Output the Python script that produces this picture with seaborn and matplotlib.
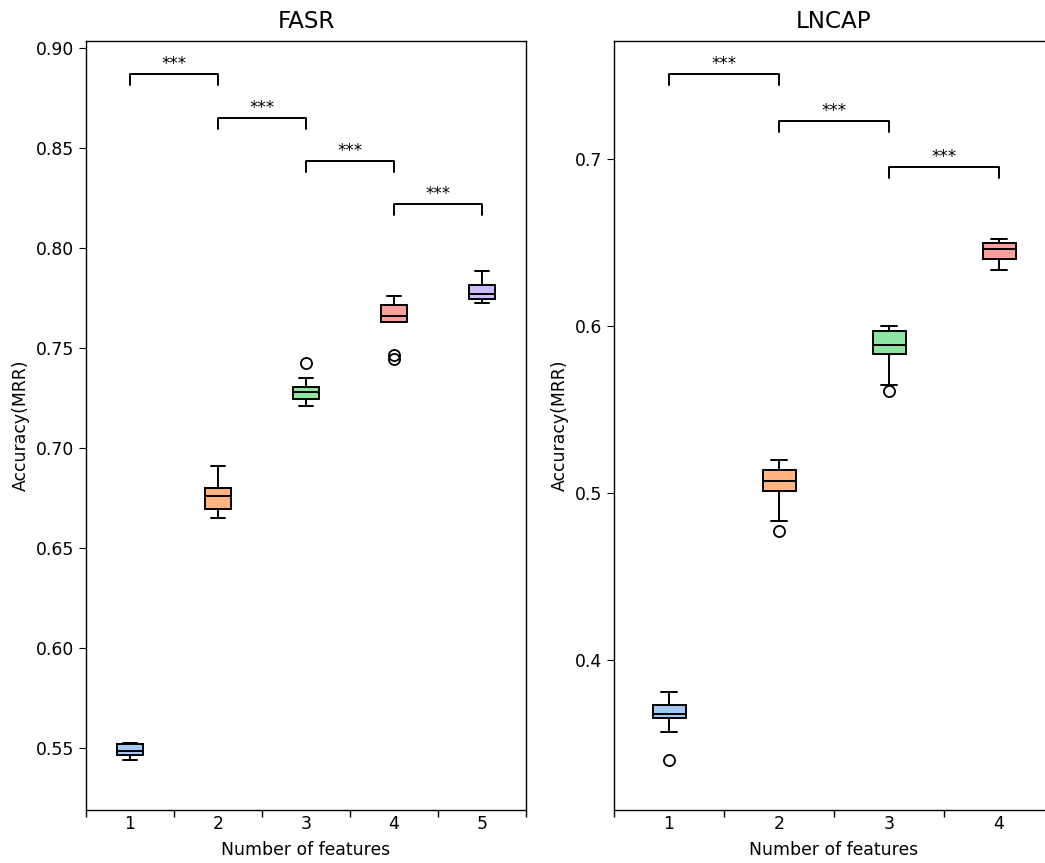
import numpy as np
import pandas as pd
import matplotlib
matplotlib.use("Agg")
import matplotlib.pyplot as plt
import seaborn as sns
from matplotlib.ticker import FixedLocator

# ---- data (samples chosen to reproduce the box statistics) ----
fasr_features = ["1", "2", "3", "4", "5"]
fasr_1 = [0.5440, 0.5450, 0.5465, 0.5470, 0.5485, 0.5500, 0.5520, 0.5522, 0.5525]
fasr_2 = [0.6650, 0.6670, 0.6695, 0.6730, 0.6760, 0.6780, 0.6800, 0.6850, 0.6910]
fasr_3 = [0.7210, 0.7230, 0.7245, 0.7260, 0.7280, 0.7290, 0.7305, 0.7350, 0.7425]
fasr_4 = [0.7445, 0.7465, 0.7630, 0.7640, 0.7660, 0.7680, 0.7715, 0.7740, 0.7760]
fasr_5 = [0.7725, 0.7735, 0.7745, 0.7760, 0.7770, 0.7790, 0.7815, 0.7850, 0.7885]

lncap_features = ["1", "2", "3", "4"]
lncap_1 = [0.3400, 0.3570, 0.3653, 0.3660, 0.3677, 0.3700, 0.3730, 0.3770, 0.3808]
lncap_2 = [0.4772, 0.4830, 0.5012, 0.5040, 0.5072, 0.5100, 0.5138, 0.5170, 0.5198]
lncap_3 = [0.5612, 0.5650, 0.5832, 0.5860, 0.5886, 0.5930, 0.5970, 0.5990, 0.6000]
lncap_4 = [0.6335, 0.6370, 0.6401, 0.6430, 0.6461, 0.6480, 0.6497, 0.6510, 0.6521]

fasr_brackets = [(0, 1, 0.887), (1, 2, 0.865), (2, 3, 0.8435), (3, 4, 0.822)]
lncap_brackets = [(0, 1, 0.7509), (1, 2, 0.7228), (2, 3, 0.6952)]
sig_label = "***"

titles = ["FASR", "LNCAP"]
xlabel = "Number of features"
ylabel = "Accuracy(MRR)"


def long_df(features, groups):
    rows = []
    for f, g in zip(features, groups):
        for v in g:
            rows.append({"features": f, "value": v})
    return pd.DataFrame(rows)


df_fasr = long_df(fasr_features, [fasr_1, fasr_2, fasr_3, fasr_4, fasr_5])
df_lncap = long_df(lncap_features, [lncap_1, lncap_2, lncap_3, lncap_4])

sns.set_style("ticks")
plt.rcParams["font.family"] = ["DejaVu Sans"]
plt.rcParams.update({
    "text.color": "black",
    "axes.labelcolor": "black",
    "axes.edgecolor": "black",
    "xtick.color": "black",
    "ytick.color": "black",
})

W, H = 1045, 863
fig = plt.figure(figsize=(W / 100, H / 100), dpi=100)
ax1 = fig.add_axes([86 / W, (H - 810) / H, 440 / W, 769 / H])
ax2 = fig.add_axes([614 / W, (H - 810) / H, 440 / W, 769 / H])

pal = sns.color_palette("pastel")

for ax, df, feats, brackets, ylim, drop, yticks, title in [
    (ax1, df_fasr, fasr_features, fasr_brackets, (0.519, 0.9035), 0.0055,
     np.arange(0.55, 0.901, 0.05), titles[0]),
    (ax2, df_lncap, lncap_features, lncap_brackets, (0.3102, 0.7707), 0.0066,
     [0.4, 0.5, 0.6, 0.7], titles[1]),
]:
    sns.boxplot(data=df, x="features", y="value", hue="features",
                palette=pal[:len(feats)], legend=False, width=0.3,
                saturation=1, linecolor="black", linewidth=1.4,
                flierprops=dict(marker="o", markersize=8,
                                markerfacecolor="none",
                                markeredgecolor="black",
                                markeredgewidth=1.3),
                ax=ax)
    ax.set_xlim(-0.5, len(feats) - 0.5)
    ax.set_ylim(*ylim)
    ax.set_yticks(yticks)
    ax.set_yticklabels([f"{t:.2f}" if ax is ax1 else f"{t:.1f}" for t in yticks])
    ax.xaxis.set_minor_locator(FixedLocator(np.arange(-0.5, len(feats), 1.0)))
    ax.tick_params(axis="x", which="major", length=0, labelsize=12.4, pad=3.5)
    ax.tick_params(axis="x", which="minor", length=5, width=1)
    ax.tick_params(axis="y", labelsize=12.4, length=5)
    ax.set_xlabel(xlabel, fontsize=12.4, labelpad=5.5)
    ax.set_ylabel(ylabel, fontsize=12.4)
    ax.set_title(title, fontsize=16.6, pad=9.5)
    for a, b, y in brackets:
        ax.plot([a, a, b, b], [y - drop, y, y, y - drop], color="black", lw=1.4)
        ax.text((a + b) / 2, y + drop * 0.08, sig_label, ha="center",
                va="bottom", fontsize=12)
    for s in ax.spines.values():
        s.set_linewidth(1.0)

fig.savefig("out.png", dpi=100)
